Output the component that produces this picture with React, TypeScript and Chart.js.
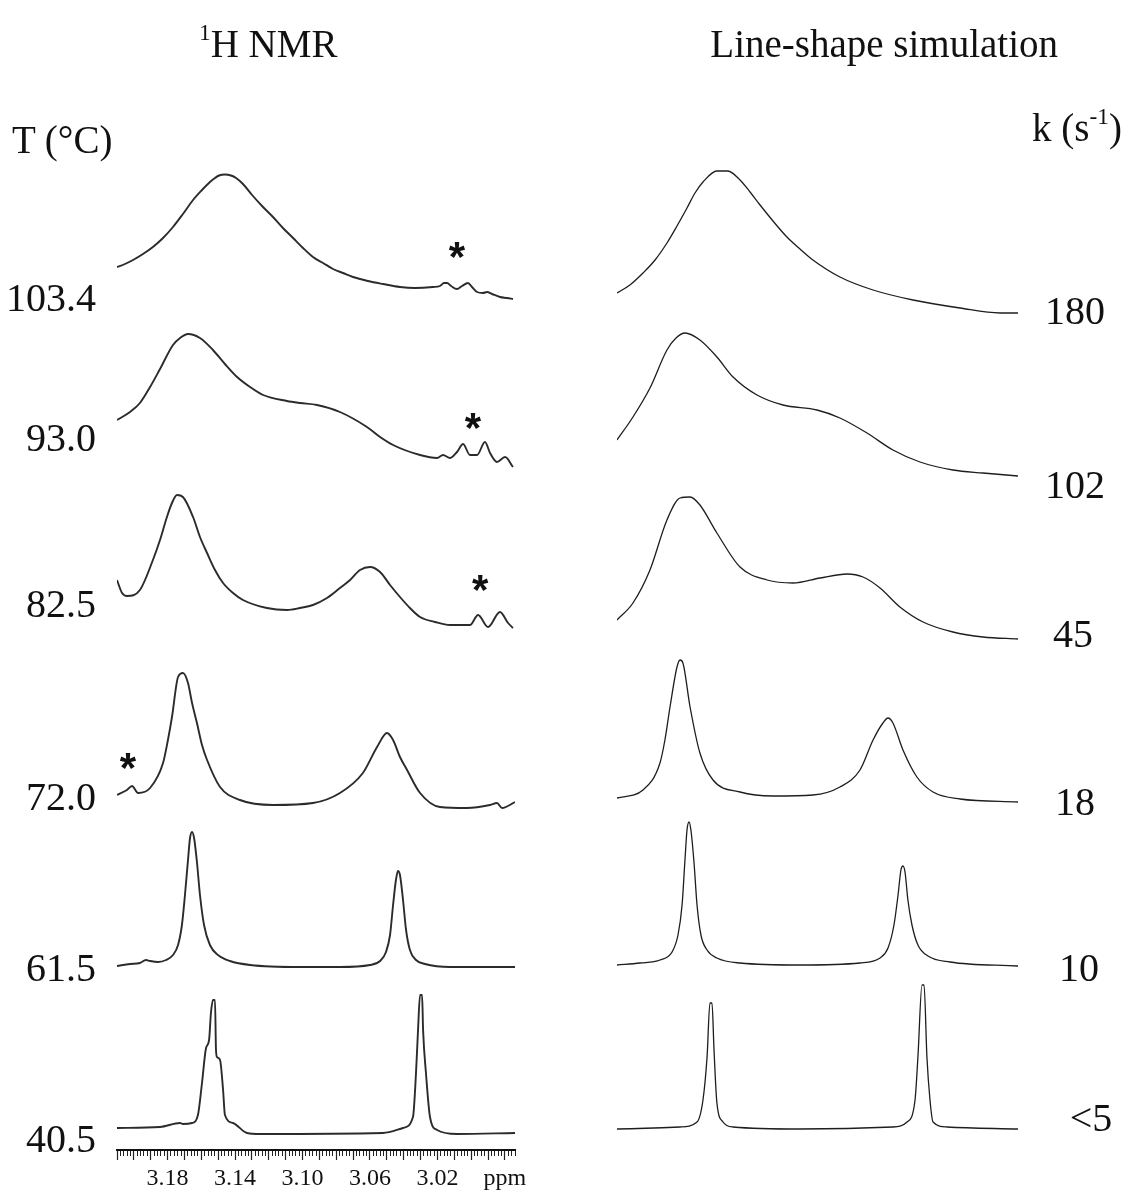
import React, { useEffect, useRef } from "react";
import { Chart, registerables } from "chart.js";

Chart.register(...registerables);

// ---------- axis ----------
const PPM_MIN = 2.974;
const PPM_MAX = 3.21;
const PPM_LABELS = [3.18, 3.14, 3.1, 3.06, 3.02];
const PPM_UNIT_AT = 2.98;

// ---------- trace labels ----------
const TEMPERATURES = ["103.4", "93.0", "82.5", "72.0", "61.5", "40.5"];
const RATES = ["180", "102", "45", "18", "10", "<5"];

// ---------- experimental 1H NMR traces (shift in ppm, intensity a.u.) ----------
const EXP_1034_SHIFT = [3.21, 3.2053, 3.2005, 3.1946, 3.1887, 3.1827, 3.1768, 3.1709, 3.1649, 3.1596, 3.1549, 3.1519, 3.1495, 3.146, 3.1424, 3.1394, 3.1353, 3.1299, 3.124, 3.1175, 3.1116, 3.1056, 3.0997, 3.0938, 3.0878, 3.0819, 3.076, 3.0701, 3.0612, 3.0523, 3.0422, 3.0333, 3.0226, 3.0185, 3.0161, 3.0143, 3.0119, 3.0084, 3.0054, 3.0019, 2.9995, 2.9965, 2.993, 2.9906, 2.9876, 2.9829, 2.9787, 2.9752];
const EXP_1034_INT = [33, 36, 40, 46, 53, 62, 73, 86, 100, 110, 118, 122, 124.5, 125.5, 124.5, 122, 116, 105, 94, 83, 72, 62, 52, 43, 37, 31, 27, 23, 19, 16, 13, 12, 13, 14, 17, 17, 14, 11, 14, 17, 13, 8, 7, 8, 6, 3, 2, 1];

const EXP_930_SHIFT = [3.21, 3.2023, 3.1964, 3.1904, 3.1845, 3.1768, 3.1726, 3.1679, 3.1608, 3.1531, 3.146, 3.1388, 3.1311, 3.1234, 3.1092, 3.1015, 3.0914, 3.0778, 3.0618, 3.054, 3.0463, 3.0303, 3.0202, 3.0167, 3.0125, 3.0084, 3.0048, 3.0007, 2.9965, 2.9918, 2.9888, 2.9847, 2.9799, 2.9752];
const EXP_930_INT = [47, 55, 64, 80, 98, 122, 129, 133, 129, 117, 103, 90, 80, 72, 66, 64, 62, 55, 40, 30, 22, 12, 9, 12, 9, 15, 23, 12, 12, 25, 14, 5, 10, 0];

const EXP_825_SHIFT = [3.21, 3.207, 3.2041, 3.1964, 3.1887, 3.1845, 3.1804, 3.1774, 3.1744, 3.1709, 3.1649, 3.1608, 3.1566, 3.1519, 3.1471, 3.1412, 3.1353, 3.1211, 3.1092, 3.1015, 3.0938, 3.0855, 3.0778, 3.0718, 3.0659, 3.06, 3.054, 3.0481, 3.0422, 3.0363, 3.0303, 3.0214, 3.0125, 3.0007, 2.9959, 2.99, 2.9829, 2.9781, 2.9752];
const EXP_825_INT = [48, 35, 32, 38, 68, 88, 111, 125, 133, 131, 111, 91, 75, 58, 45, 35, 28, 20, 18, 20, 23, 30, 40, 48, 58, 61, 56, 43, 31, 20, 11, 6, 3, 3, 13, 1, 16, 5, 0];

const EXP_720_SHIFT = [3.21, 3.2041, 3.2011, 3.1975, 3.1904, 3.1827, 3.1798, 3.1774, 3.1738, 3.1709, 3.1679, 3.1655, 3.1626, 3.1596, 3.1566, 3.1489, 3.1371, 3.1175, 3.0938, 3.0778, 3.0642, 3.0558, 3.0499, 3.0463, 3.0422, 3.038, 3.0303, 3.0185, 3.0025, 2.9888, 2.9847, 2.9817, 2.974];
const EXP_720_INT = [13, 18, 22, 15, 20, 45, 68, 91, 131, 135, 125, 105, 85, 63, 48, 21, 8, 3, 5, 15, 35, 61, 75, 68, 51, 38, 15, 1, 0, 3, 5, 0, 6];

const EXP_615_SHIFT = [3.21, 3.2023, 3.1964, 3.1928, 3.1904, 3.1857, 3.1809, 3.1768, 3.1738, 3.1715, 3.1697, 3.1679, 3.1667, 3.1655, 3.1643, 3.1626, 3.1608, 3.1584, 3.1549, 3.1501, 3.143, 3.1311, 3.1015, 3.0778, 3.06, 3.054, 3.0505, 3.0481, 3.0463, 3.0446, 3.0434, 3.0422, 3.0404, 3.0386, 3.0363, 3.0327, 3.0274, 3.0125, 2.974];
const EXP_615_INT = [1, 3, 4, 7, 6, 5, 7, 12, 22, 42, 72, 107, 129, 135, 129, 105, 72, 42, 22, 12, 6, 2, 0, 0, 2, 6, 15, 32, 62, 87, 96, 92, 67, 37, 17, 7, 3, 0, 0];

const EXP_405_SHIFT = [3.21, 3.1845, 3.1726, 3.1709, 3.1655, 3.162, 3.1596, 3.1572, 3.1554, 3.1543, 3.1531, 3.1519, 3.1513, 3.1507, 3.1489, 3.1471, 3.146, 3.1412, 3.1329, 3.1252, 3.0523, 3.0404, 3.0345, 3.0327, 3.0315, 3.0303, 3.0291, 3.0285, 3.0268, 3.0244, 3.0202, 3.0084, 2.974];
const EXP_405_INT = [6, 7, 11, 10, 11, 19, 51, 86, 94, 121, 134, 134, 84, 77, 74, 44, 19, 11, 1, 0, 1, 6, 17, 61, 104, 139, 139, 104, 61, 17, 4, 0, 1];

// ---------- line-shape simulation traces ----------
const SIM_180_SHIFT = [3.21, 3.2024, 3.1947, 3.1876, 3.1806, 3.1747, 3.1688, 3.1641, 3.1594, 3.1512, 3.1447, 3.1376, 3.1317, 3.1258, 3.1182, 3.11, 3.1023, 3.0947, 3.0788, 3.0593, 3.0358, 3.0081, 2.9846, 2.974];
const SIM_180_INT = [20, 28, 40, 53, 70, 87, 105, 120, 131, 142, 142, 133, 121, 108, 92, 76, 64, 53, 36, 23, 13, 5, 0, 0];

const SIM_102_SHIFT = [3.21, 3.2006, 3.1906, 3.1806, 3.1753, 3.17, 3.1612, 3.1512, 3.1417, 3.1276, 3.1123, 3.0923, 3.0788, 3.0629, 3.0476, 3.0317, 3.0123, 2.9946, 2.974];
const SIM_102_INT = [36, 59, 88, 126, 138, 143, 136, 119, 99, 81, 71, 66, 58, 43, 26, 14, 6, 3, 0];

const SIM_45_SHIFT = [3.21, 3.2006, 3.1906, 3.1806, 3.1729, 3.167, 3.1612, 3.1512, 3.1376, 3.1217, 3.1064, 3.0905, 3.0746, 3.0652, 3.0552, 3.0435, 3.0299, 3.0123, 2.9946, 2.974];
const SIM_45_INT = [19, 36, 69, 119, 141, 142, 134, 106, 72, 59, 56, 61, 65, 62, 51, 32, 17, 7, 2, 0];

const SIM_18_SHIFT = [3.21, 3.1947, 3.1847, 3.1818, 3.1788, 3.1747, 3.1729, 3.1712, 3.167, 3.1612, 3.1535, 3.1376, 3.1182, 3.0947, 3.0788, 3.067, 3.0593, 3.0535, 3.0505, 3.0476, 3.0417, 3.0335, 3.024, 3.0081, 2.974];
const SIM_18_INT = [4, 12, 39, 62, 95, 135, 142, 139, 95, 49, 22, 10, 6, 7, 15, 32, 62, 79, 84, 79, 52, 25, 10, 3, 0];

const SIM_10_SHIFT = [3.21, 3.1965, 3.1847, 3.1776, 3.1741, 3.1717, 3.17, 3.1688, 3.1676, 3.1665, 3.1647, 3.1629, 3.1606, 3.157, 3.1512, 3.1376, 3.1023, 3.067, 3.0552, 3.0505, 3.047, 3.0446, 3.0429, 3.0417, 3.0405, 3.0388, 3.0364, 3.0329, 3.027, 3.014, 2.974];
const SIM_10_INT = [1, 3, 6, 14, 31, 61, 106, 136, 144, 136, 104, 61, 31, 16, 8, 3, 1, 3, 8, 18, 41, 71, 96, 100, 94, 66, 41, 21, 10, 4, 0];

const SIM_5_SHIFT = [3.21, 3.1729, 3.1629, 3.1594, 3.157, 3.1553, 3.1541, 3.1529, 3.1512, 3.1476, 3.1417, 3.1023, 3.0476, 3.0393, 3.0346, 3.0329, 3.0305, 3.0293, 3.0276, 3.0258, 3.024, 3.0158, 2.974];
const SIM_5_INT = [0, 2, 7, 29, 72, 126, 126, 79, 26, 7, 2, 0, 2, 7, 29, 72, 144, 144, 72, 29, 7, 2, 0];

// asterisks (impurity marks) on the experimental traces
const ASTERISK_TRACE = [0, 1, 2, 3];
const ASTERISK_SHIFT = [3.0084, 2.9989, 2.9947, 3.2035];
const ASTERISK_HEIGHT = [53, 49, 48, 50];

// ---------- layout (vertical stacking) ----------
const EXP_SHIFTS = [EXP_1034_SHIFT, EXP_930_SHIFT, EXP_825_SHIFT, EXP_720_SHIFT, EXP_615_SHIFT, EXP_405_SHIFT];
const EXP_INTS = [EXP_1034_INT, EXP_930_INT, EXP_825_INT, EXP_720_INT, EXP_615_INT, EXP_405_INT];
const SIM_SHIFTS = [SIM_180_SHIFT, SIM_102_SHIFT, SIM_45_SHIFT, SIM_18_SHIFT, SIM_10_SHIFT, SIM_5_SHIFT];
const SIM_INTS = [SIM_180_INT, SIM_102_INT, SIM_45_INT, SIM_18_INT, SIM_10_INT, SIM_5_INT];
const EXP_OFFSETS = [850, 683, 522, 342, 183, 16];
const SIM_OFFSETS = [837, 674, 511, 348, 184, 21];
const Y_MAX = 1150;

const SERIF = '"Liberation Serif", "Times New Roman", Times, serif';

function toPoints(shifts: number[], ints: number[], offset: number) {
  const n = Math.min(shifts.length, ints.length);
  const pts: { x: number; y: number }[] = [];
  for (let i = 0; i < n; i++) pts.push({ x: shifts[i], y: offset + ints[i] });
  return pts;
}

function makeDatasets(shifts: number[][], ints: number[][], offsets: number[], color: string, width: number) {
  return shifts.map((s, i) => ({
    data: toPoints(s, ints[i], offsets[i]),
    borderColor: color,
    borderWidth: width,
    pointRadius: 0,
    fill: false,
    cubicInterpolationMode: "monotone" as const,
  }));
}

function ppmLabel(v: number) {
  for (const l of PPM_LABELS) if (Math.abs(v - l) < 1e-6) return l.toFixed(2);
  if (Math.abs(v - PPM_UNIT_AT) < 1e-6) return "ppm";
  return "";
}

const asteriskPlugin = {
  id: "asterisks",
  afterDatasetsDraw(chart: any) {
    const { ctx } = chart;
    const xs = chart.scales.x;
    const ys = chart.scales.y;
    const size = 42;
    ctx.save();
    ctx.fillStyle = "#111";
    ctx.font = `bold ${size}px "Liberation Sans", Arial, sans-serif`;
    ctx.textAlign = "center";
    ctx.textBaseline = "alphabetic";
    for (let i = 0; i < ASTERISK_SHIFT.length; i++) {
      const px = xs.getPixelForValue(ASTERISK_SHIFT[i]);
      const py = ys.getPixelForValue(EXP_OFFSETS[ASTERISK_TRACE[i]] + ASTERISK_HEIGHT[i]);
      ctx.fillText("*", px, py + 0.575 * size);
    }
    ctx.restore();
  },
};

function baseOptions(padding: any) {
  return {
    responsive: false,
    animation: false as const,
    events: [] as any[],
    layout: { padding },
    plugins: { legend: { display: false }, tooltip: { enabled: false } },
  };
}

type TxtProps = { x: number; base: number; size: number; align?: "left" | "right" | "center"; children: React.ReactNode };
function Txt({ x, base, size, align = "left", children }: TxtProps) {
  const tx = align === "right" ? "translateX(-100%)" : align === "center" ? "translateX(-50%)" : "none";
  return (
    <div
      style={{
        position: "absolute",
        left: x,
        top: base - 0.8375 * size,
        fontFamily: SERIF,
        fontSize: size,
        lineHeight: `${size}px`,
        color: "#111",
        whiteSpace: "nowrap",
        transform: tx,
      }}
    >
      {children}
    </div>
  );
}

const EXP_LABEL_BASE = [311, 451, 617, 810, 981, 1152];
const SIM_LABEL_BASE = [324, 498, 647, 815, 981, 1131];
const SIM_LABEL_X = [1075, 1075, 1073, 1075, 1079, 1091];

export default function App() {
  const leftRef = useRef<HTMLCanvasElement>(null);
  const rightRef = useRef<HTMLCanvasElement>(null);

  useEffect(() => {
    const left = new Chart(leftRef.current!, {
      type: "line",
      data: { datasets: makeDatasets(EXP_SHIFTS, EXP_INTS, EXP_OFFSETS, "#2b2b2b", 1.9) as any },
      options: {
        ...baseOptions({ left: 117, right: 45, top: 0, bottom: 0 }),
        scales: {
          x: {
            type: "linear",
            reverse: true,
            min: PPM_MIN,
            max: PPM_MAX,
            position: "bottom",
            afterFit: (s: any) => {
              s.height = 41;
            },
            grid: { display: true, drawOnChartArea: false, drawTicks: true, tickLength: 6, tickColor: "#222", tickWidth: 1 },
            border: { display: true, color: "#111", width: 2 },
            ticks: {
              stepSize: 0.002,
              autoSkip: false,
              maxRotation: 0,
              minRotation: 0,
              includeBounds: false,
              padding: 8,
              color: "#111",
              font: { family: SERIF, size: 24 },
              callback: (v: any) => ppmLabel(Number(v)),
            },
          },
          xMajor: {
            type: "linear",
            axis: "x",
            reverse: true,
            min: PPM_MIN,
            max: PPM_MAX,
            position: { y: 0 },
            grid: { display: true, drawOnChartArea: false, drawTicks: true, tickLength: 10, tickColor: "#222", tickWidth: 1.2 },
            border: { display: false },
            ticks: { stepSize: 0.01, autoSkip: false, display: false, includeBounds: false },
          },
          y: { type: "linear", display: false, min: 0, max: Y_MAX },
        } as any,
      },
      plugins: [asteriskPlugin],
    });

    const right = new Chart(rightRef.current!, {
      type: "line",
      data: { datasets: makeDatasets(SIM_SHIFTS, SIM_INTS, SIM_OFFSETS, "#1e1e1e", 1.3) as any },
      options: {
        ...baseOptions({ left: 57, right: 108, top: 0, bottom: 41 }),
        scales: {
          x: { type: "linear", reverse: true, min: PPM_MIN, max: PPM_MAX, display: false },
          y: { type: "linear", display: false, min: 0, max: Y_MAX },
        } as any,
      },
    });

    return () => {
      left.destroy();
      right.destroy();
    };
  }, []);

  return (
    <div style={{ position: "absolute", left: 0, top: 0, width: 1126, height: 1191, background: "#fff", overflow: "hidden" }}>
      <canvas ref={leftRef} width={560} height={1191} style={{ position: "absolute", left: 0, top: 0, width: 560, height: 1191 }} />
      <canvas ref={rightRef} width={566} height={1191} style={{ position: "absolute", left: 560, top: 0, width: 566, height: 1191 }} />

      <Txt x={199} base={57} size={39}>
        <span style={{ fontSize: "0.6em", position: "relative", top: "-0.75em" }}>1</span>H NMR
      </Txt>
      <Txt x={1058} base={57} size={39} align="right">Line-shape simulation</Txt>
      <Txt x={12} base={153} size={39}>T (°C)</Txt>
      <Txt x={1122} base={141} size={39} align="right">
        k (s<span style={{ fontSize: "0.6em", position: "relative", top: "-0.75em" }}>-1</span>)
      </Txt>

      {TEMPERATURES.map((t, i) => (
        <Txt key={"t" + i} x={96} base={EXP_LABEL_BASE[i]} size={40} align="right">{t}</Txt>
      ))}
      {RATES.map((r, i) => (
        <Txt key={"k" + i} x={SIM_LABEL_X[i]} base={SIM_LABEL_BASE[i]} size={40} align="center">{r}</Txt>
      ))}
    </div>
  );
}
